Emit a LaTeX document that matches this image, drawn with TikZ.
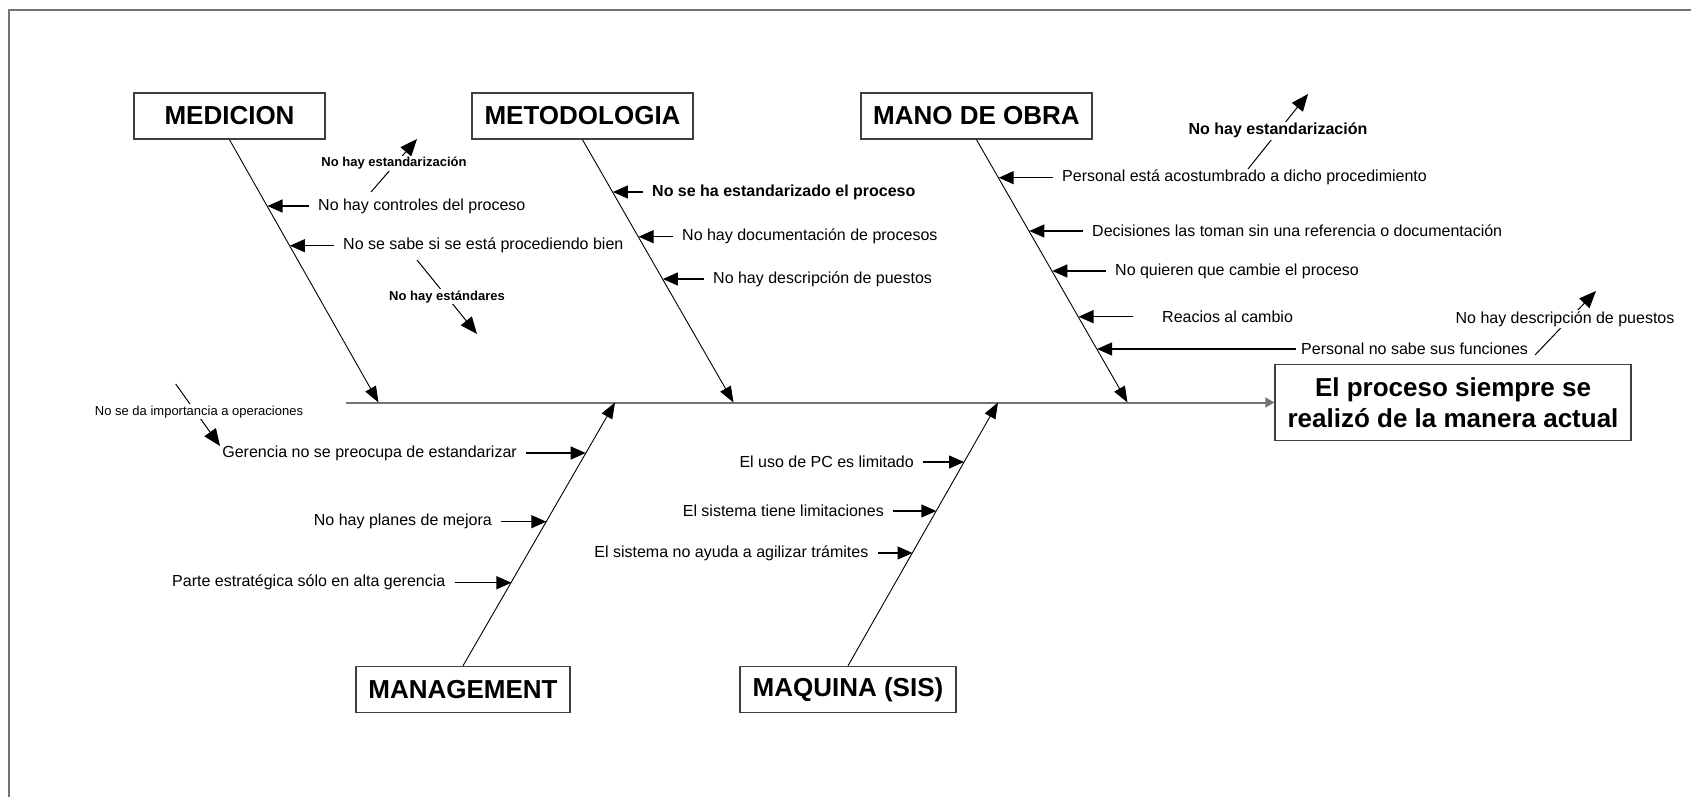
\documentclass[tikz,border=0pt]{standalone}
\usepackage{fontspec}
\setmainfont{Liberation Sans}
\usetikzlibrary{arrows.meta}

\begin{document}
\begin{tikzpicture}[
  x=1pt,y=-1pt,
  font=\fontsize{16}{19}\selectfont,
  frame/.style={draw=black!55,line width=2pt},
  catbox/.style={draw=black!75,line width=1.4pt,fill=white,inner sep=0pt,
    font=\fontsize{26}{31}\selectfont\bfseries,minimum height=46pt},
  effectbox/.style={catbox,align=center,minimum width=356pt,minimum height=76pt},
  spine/.style={-{Triangle[length=9pt,width=10pt]},draw=black!55,line width=2pt},
  bone/.style={-{Triangle[length=16pt,width=12pt]},black,line width=0.9pt},
  cause/.style={inner xsep=9pt,inner ysep=1pt},
  causearrow/.style={-{Triangle[length=15pt,width=13pt]},black,line width=1.2pt},
  subcause/.style={fill=white,inner sep=1.5pt},
  subbold/.style={subcause,font=\fontsize{13}{15}\selectfont\bfseries},
  subarrow/.style={-{Triangle[length=17pt,width=14pt]},black,line width=1pt}
]
\useasboundingbox (0,0) rectangle (1691,797);
\draw[frame] (8.5,797) -- (8.5,10.5) -- (1691,10.5);

% Effect and main spine.
\node[effectbox] (effect) at (1453,402.5) {El proceso siempre se\\realizó de la manera actual};
\coordinate (spineStart) at (346,402.5);
\draw[spine] (spineStart) -- (effect.west);

% Category boxes.
\node[catbox,minimum width=191pt] (medicion) at (229.5,116) {MEDICION};
\node[catbox,minimum width=221pt] (metodologia) at (582.5,116) {METODOLOGIA};
\node[catbox,minimum width=231pt] (manoObra) at (976.5,116) {MANO DE OBRA};
\node[catbox,minimum width=214pt] (management) at (463,689.5) {MANAGEMENT};
\node[catbox,minimum width=216pt] (maquina) at (848,689.5) {MAQUINA (SIS)};

% Bones into the spine.
\coordinate (medEnd) at (378.5,402.5);
\coordinate (metEnd) at (733.5,402.5);
\coordinate (manoEnd) at (1127.5,402.5);
\coordinate (mgmtEnd) at (615,402.5);
\coordinate (maqEnd) at (998,402.5);
\draw[bone] (medicion.south) -- (medEnd);
\draw[bone] (metodologia.south) -- (metEnd);
\draw[bone] (manoObra.south) -- (manoEnd);
\draw[bone] (management.north) -- (mgmtEnd);
\draw[bone] (maquina.north) -- (maqEnd);

% Medicion causes.
\coordinate (medCtrlTip) at (267.5,206);
\coordinate (medSabeTip) at (289.9,245.7);
\node[cause,anchor=west] (medCtrl) at (309,206) {No hay controles del proceso};
\node[cause,anchor=west] (medSabe) at (334,245.7) {No se sabe si se está procediendo bien};
\draw[causearrow] (medCtrl) -- (medCtrlTip);
\draw[causearrow] (medSabe) -- (medSabeTip);

% Metodologia causes.
\coordinate (metStdTip) at (612.9,192);
\coordinate (metDocTip) at (638.6,236.7);
\coordinate (metDescTip) at (662.9,279);
\node[cause,anchor=west,font=\fontsize{16}{19}\selectfont\bfseries] (metStd) at (643,192) {No se ha estandarizado el proceso};
\node[cause,anchor=west] (metDoc) at (673,236.7) {No hay documentación de procesos};
\node[cause,anchor=west] (metDesc) at (704,279) {No hay descripción de puestos};
\draw[causearrow] (metStd) -- (metStdTip);
\draw[causearrow] (metDoc) -- (metDocTip);
\draw[causearrow] (metDesc) -- (metDescTip);

% Mano de obra causes.
\coordinate (manoCostTip) at (998.7,177.7);
\coordinate (manoDecTip) at (1029.3,231);
\coordinate (manoCambTip) at (1052.3,271);
\coordinate (manoReacTip) at (1078.5,316.7);
\coordinate (manoFuncTip) at (1097,349);
\node[cause,anchor=west] (manoCost) at (1053,177.7) {Personal está acostumbrado a dicho procedimiento};
\node[cause,anchor=west] (manoDec) at (1083,231) {Decisiones las toman sin una referencia o documentación};
\node[cause,anchor=west] (manoCamb) at (1106,271) {No quieren que cambie el proceso};
\node[cause,anchor=west,inner xsep=29pt] (manoReac) at (1133,316.7) {Reacios al cambio};
\node[cause,anchor=west,inner xsep=5pt] (manoFunc) at (1296,349) {Personal no sabe sus funciones};
\draw[causearrow] (manoCost) -- (manoCostTip);
\draw[causearrow] (manoDec) -- (manoDecTip);
\draw[causearrow] (manoCamb) -- (manoCambTip);
\draw[causearrow] (manoReac) -- (manoReacTip);
\draw[causearrow] (manoFunc) -- (manoFuncTip);

% Management causes.
\coordinate (mgmtGerTip) at (585.7,453);
\coordinate (mgmtPlanTip) at (546.3,521.7);
\coordinate (mgmtParteTip) at (511.4,582.7);
\node[cause,anchor=east] (mgmtGer) at (526,453) {Gerencia no se preocupa de estandarizar};
\node[cause,anchor=east] (mgmtPlan) at (501,521.7) {No hay planes de mejora};
\node[cause,anchor=east] (mgmtParte) at (454.5,582.7) {Parte estratégica sólo en alta gerencia};
\draw[causearrow] (mgmtGer) -- (mgmtGerTip);
\draw[causearrow] (mgmtPlan) -- (mgmtPlanTip);
\draw[causearrow] (mgmtParte) -- (mgmtParteTip);

% Maquina causes.
\coordinate (maqPCTip) at (964,462);
\coordinate (maqLimTip) at (936.3,511);
\coordinate (maqAgilTip) at (912.5,553);
\node[cause,anchor=east] (maqPC) at (923,462) {El uso de PC es limitado};
\node[cause,anchor=east] (maqLim) at (893,511) {El sistema tiene limitaciones};
\node[cause,anchor=east] (maqAgil) at (877.5,553) {El sistema no ayuda a agilizar trámites};
\draw[causearrow] (maqPC) -- (maqPCTip);
\draw[causearrow] (maqLim) -- (maqLimTip);
\draw[causearrow] (maqAgil) -- (maqAgilTip);

% Second-level causes, the label sits on its own arrow.
\coordinate (medStdzTail) at (371,192);
\coordinate (medStdzTip) at (417,139);
\draw[subarrow] (medStdzTail) -- (medStdzTip);
\node[subbold] (medStdz) at (394,163.3) {No hay estandarización};

\coordinate (medStdrTail) at (417,260);
\coordinate (medStdrTip) at (477,334);
\draw[subarrow] (medStdrTail) -- (medStdrTip);
\node[subbold] (medStdr) at (447,296.7) {No hay estándares};

\coordinate (manoStdzTail) at (1248,169);
\coordinate (manoStdzTip) at (1308,94);
\draw[subarrow] (manoStdzTail) -- (manoStdzTip);
\node[subcause,font=\fontsize{16}{19}\selectfont\bfseries] (manoStdz) at (1278,130.7) {No hay estandarización};

\coordinate (manoDescTail) at (1535,355);
\coordinate (manoDescTip) at (1596,291);
\draw[subarrow] (manoDescTail) -- (manoDescTip);
\node[subcause] (manoDesc) at (1565,319) {No hay descripción de puestos};

\coordinate (mgmtImpTail) at (175.7,384);
\coordinate (mgmtImpTip) at (220,446);
\draw[subarrow] (mgmtImpTail) -- (mgmtImpTip);
\node[subcause,font=\fontsize{13}{15}\selectfont] (mgmtImp) at (199,411.7) {No se da importancia a operaciones};
\end{tikzpicture}
\end{document}
